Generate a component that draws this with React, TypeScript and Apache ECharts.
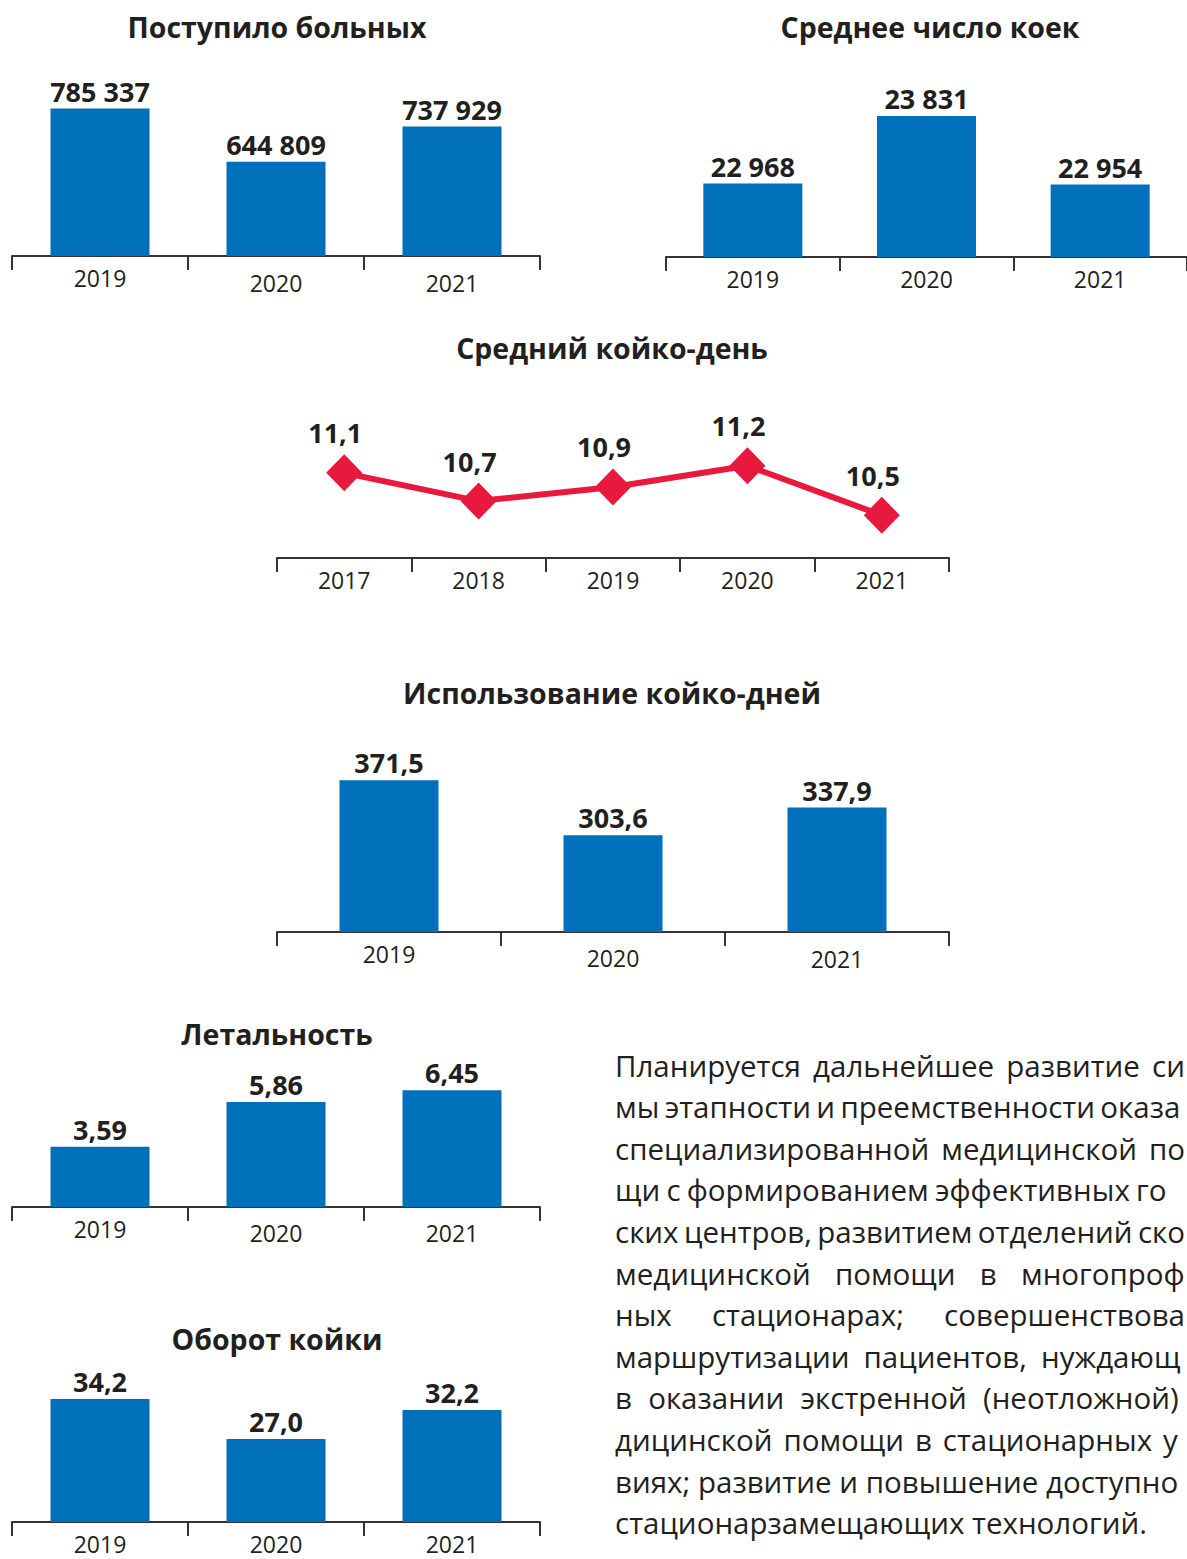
import React, { useEffect, useRef } from 'react';
import * as echarts from 'echarts';

// ---------- data ----------
const years3 = ['2019', '2020', '2021'];
const years5 = ['2017', '2018', '2019', '2020', '2021'];

const admittedValues = [785337, 644809, 737929];
const bedsValues = [22968, 23831, 22954];
const bedDayValues = [11.1, 10.7, 10.9, 11.2, 10.5];
const bedDaysUseValues = [371.5, 303.6, 337.9];
const lethalityValues = [3.59, 5.86, 6.45];
const turnoverValues = [34.2, 27.0, 32.2];

const chartTitles = [
  'Поступило больных',
  'Среднее число коек',
  'Средний койко-день',
  'Использование койко-дней',
  'Летальность',
  'Оборот койки',
];

const paragraphLines: string[][] = [
  ['Планируется', 'дальнейшее', 'развитие', 'си'],
  ['мы', 'этапности', 'и', 'преемственности', 'оказа'],
  ['специализированной', 'медицинской', 'по'],
  ['щи', 'с', 'формированием', 'эффективных', 'го'],
  ['ских', 'центров,', 'развитием', 'отделений', 'ско'],
  ['медицинской', 'помощи', 'в', 'многопроф'],
  ['ных', 'стационарах;', 'совершенствова'],
  ['маршрутизации', 'пациентов,', 'нуждающ'],
  ['в', 'оказании', 'экстренной', '(неотложной)'],
  ['дицинской', 'помощи', 'в', 'стационарных', 'у'],
  ['виях;', 'развитие', 'и', 'повышение', 'доступно'],
  ['стационарзамещающих', 'технологий.'],
];

// ---------- layout / style ----------
const FONT = '"Open Sans", "Noto Sans", sans-serif';
const TEXT = '#231F20';
const BLUE = '#0070BA';
const RED = '#E8193C';
const RIGHT_LIMIT = 1185;

// x start of the last word of each justified line (null = not justified)
const lineLastWordX: (number | null)[] = [1152, 1098, 1150, 1136, 1136, 1021, 953, 1041, 983, 1163, 1046, null];

// extra downward shift of individual year labels, per panel
const yearLabelShift: number[][] = [
  [0, 5, 5],
  [0, 0, 0],
  [0, 0, 0, 0, 0],
  [0, 4, 5],
  [0, 4, 4],
  [0, 0, 0],
];

function fmt(v: number, decimals: number): string {
  if (decimals === 0) return String(Math.round(v)).replace(/\B(?=(\d{3})+(?!\d))/g, ' ');
  return v.toFixed(decimals).replace('.', ',');
}

type Panel = {
  cats: string[];
  values: number[];
  dec: number;
  kind: 'bar' | 'line';
  left: number;
  width: number;
  top: number;
  bottom: number;
  min: number;
  max: number;
  titleX: number;
  titleY: number;
};

const panels: Panel[] = [
  { cats: years3, values: admittedValues, dec: 0, kind: 'bar', left: 12, width: 528, top: 60, bottom: 256, min: 396200, max: 913600, titleX: 277, titleY: 27 },
  { cats: years3, values: bedsValues, dec: 0, kind: 'bar', left: 666, width: 529, top: 60, bottom: 257, min: 22030, max: 24545, titleX: 930, titleY: 27 },
  { cats: years5, values: bedDayValues, dec: 1, kind: 'line', left: 277, width: 672, top: 380, bottom: 558, min: 9.894, max: 12.415, titleX: 612, titleY: 348 },
  { cats: years3, values: bedDaysUseValues, dec: 1, kind: 'bar', left: 277, width: 672, top: 740, bottom: 932, min: 184.2, max: 421.3, titleX: 612, titleY: 693 },
  { cats: years3, values: lethalityValues, dec: 2, kind: 'bar', left: 12, width: 528, top: 1060, bottom: 1207, min: 0.555, max: 7.975, titleX: 277, titleY: 1034 },
  { cats: years3, values: turnoverValues, dec: 1, kind: 'bar', left: 12, width: 528, top: 1370, bottom: 1522, min: 12.07, max: 39.4, titleX: 277, titleY: 1339 },
];

function buildParagraph(): any[] {
  const size = 29.5;
  const canvas = document.createElement('canvas');
  const ctx = canvas.getContext('2d') as CanvasRenderingContext2D;
  ctx.font = `${size}px "Open Sans"`;
  const spaceW = ctx.measureText(' ').width;
  const x0 = 615;
  const y0 = 1065;
  const lh = 41.6;
  const els: any[] = [];
  paragraphLines.forEach((words, li) => {
    const widths = words.map((w) => ctx.measureText(w).width);
    let lastX = lineLastWordX[li];
    let gap = spaceW;
    if (lastX !== null && words.length > 1) {
      const lastW = widths[widths.length - 1];
      lastX = Math.min(lastX, RIGHT_LIMIT - lastW);
      const used = widths.slice(0, -1).reduce((a, b) => a + b, 0);
      gap = Math.max(spaceW * 0.7, (lastX - x0 - used) / (words.length - 1));
    }
    let x = x0;
    words.forEach((w, wi) => {
      els.push({
        type: 'text',
        x,
        y: y0 + li * lh,
        style: {
          text: w,
          fill: TEXT,
          font: `${size}px ${FONT}`,
          textAlign: 'left',
          textVerticalAlign: 'middle',
        },
      });
      x += widths[wi] + gap;
    });
  });
  return els;
}

export default function App() {
  const ref = useRef<HTMLDivElement>(null);

  useEffect(() => {
    if (!ref.current) return;
    const chart = echarts.init(ref.current, undefined, { renderer: 'svg' });

    const axisColor = '#333333';
    const option: any = {
      animation: false,
      backgroundColor: '#ffffff',
      grid: panels.map((p) => ({
        left: p.left,
        top: p.top,
        width: p.width,
        height: p.bottom - p.top,
        containLabel: false,
      })),
      xAxis: panels.map((p, i) => ({
        type: 'category',
        gridIndex: i,
        data: p.cats.map((c, ci) => ({
          value: c,
          textStyle: { padding: [yearLabelShift[i][ci] || 0, 0, 0, 0] },
        })),
        boundaryGap: true,
        axisLine: { show: true, onZero: false, lineStyle: { color: axisColor, width: 2 } },
        axisTick: { show: true, length: 14, alignWithLabel: false, lineStyle: { color: axisColor, width: 2 } },
        axisLabel: { color: TEXT, fontSize: 23, fontFamily: FONT, margin: 10, interval: 0 },
        splitLine: { show: false },
      })),
      yAxis: panels.map((p, i) => ({
        type: 'value',
        gridIndex: i,
        min: p.min,
        max: p.max,
        startValue: p.min,
        show: false,
        splitLine: { show: false },
      })),
      series: panels.map((p, i) => {
        const label = {
          show: true,
          position: 'top',
          distance: p.kind === 'line' ? 8 : 4,
          offset: p.kind === 'line' ? [-9, 0] : [0, 0],
          color: TEXT,
          fontSize: 27,
          fontWeight: 'bold',
          fontFamily: FONT,
          formatter: (d: any) => fmt(d.value, p.dec),
        };
        if (p.kind === 'line') {
          return {
            type: 'line',
            xAxisIndex: i,
            yAxisIndex: i,
            data: p.values,
            symbol: 'diamond',
            symbolSize: [36, 37],
            lineStyle: { color: RED, width: 6 },
            itemStyle: { color: RED },
            label,
            z: 3,
          };
        }
        return {
          type: 'bar',
          xAxisIndex: i,
          yAxisIndex: i,
          data: p.values,
          barWidth: 99,
          clip: true,
          itemStyle: { color: BLUE },
          label,
        };
      }),
      graphic: [
        ...panels.map((p, i) => ({
          type: 'text',
          x: p.titleX,
          y: p.titleY,
          style: {
            text: chartTitles[i],
            fill: TEXT,
            font: `bold 28.5px ${FONT}`,
            textAlign: 'center',
            textVerticalAlign: 'middle',
          },
        })),
        ...buildParagraph(),
      ],
    };

    chart.setOption(option);
    return () => chart.dispose();
  }, []);

  return (
    <div
      ref={ref}
      style={{
        position: 'absolute',
        left: 0,
        top: 0,
        width: 1187,
        height: 1559,
        overflow: 'hidden',
        background: '#fff',
      }}
    />
  );
}
